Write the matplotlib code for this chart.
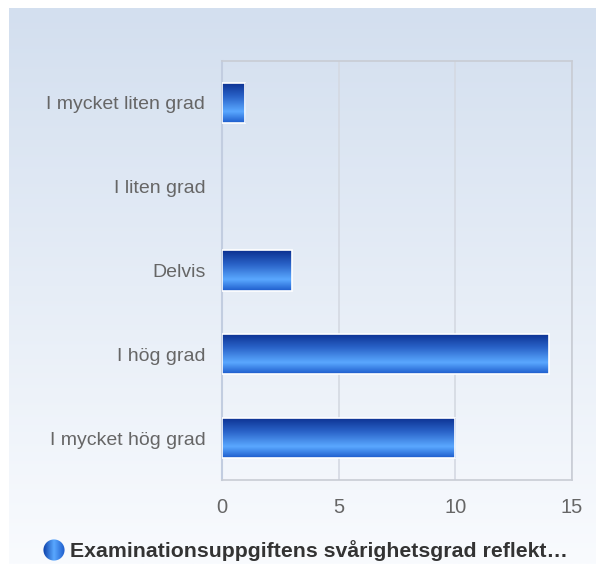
import numpy as np
import matplotlib.pyplot as plt
from matplotlib.colors import LinearSegmentedColormap
from matplotlib.patches import Rectangle, Circle

categories = ["I mycket liten grad", "I liten grad", "Delvis", "I hög grad", "I mycket hög grad"]
values = [1, 0, 3, 14, 10]
x_ticks = [0, 5, 10, 15]
legend_label = "Examinationsuppgiftens svårighetsgrad reflekt…"

plt.rcParams["font.family"] = ["Liberation Sans", "DejaVu Sans"]

fig = plt.figure(figsize=(5.96, 5.64), dpi=100)

# background gradient panel
bg = fig.add_axes([0, 0, 1, 1], zorder=0)
bg.set_axis_off()
bg.set_xlim(0, 596)
bg.set_ylim(564, 0)
bg_cmap = LinearSegmentedColormap.from_list("bg", ["#d3dfef", "#f9fbfe"])
grad = np.linspace(0, 1, 256).reshape(-1, 1)
bg.imshow(grad, cmap=bg_cmap, extent=[9, 596, 564, 8], aspect="auto")

ax = fig.add_axes([222 / 596, 1 - 480 / 564, 350 / 596, 419 / 564], zorder=1)
ax.patch.set_alpha(0)

bar_cmap = LinearSegmentedColormap.from_list(
    "bar", [(0, "#0b2f8f"), (0.35, "#2a63c8"), (0.72, "#5aa8ff"), (1, "#1d5ccc")]
)
bar_grad = np.linspace(0, 1, 128).reshape(-1, 1)

y = np.arange(len(categories))
h = 0.48
for yi, v in zip(y, values):
    if v <= 0:
        continue
    img = ax.imshow(bar_grad, cmap=bar_cmap, extent=[0, v, yi + h / 2, yi - h / 2],
                    aspect="auto", zorder=3, interpolation="bilinear")
    box = Rectangle((0, yi - h / 2), v, h, fill=False,
                    edgecolor="white", linewidth=1.2, zorder=4)
    ax.add_patch(box)
    img.set_clip_path(Rectangle((0, yi - h / 2), v, h, transform=ax.transData))

ax.set_xlim(0, 15)
ax.set_ylim(len(categories) - 0.5, -0.5)
ax.set_xticks(x_ticks)
ax.set_yticks(y)
ax.set_yticklabels(categories)
ax.tick_params(axis="both", length=0, labelsize=14, labelcolor="#666666")
ax.tick_params(axis="x", labelsize=14.5, pad=13)
ax.tick_params(axis="y", pad=12)
ax.grid(axis="x", color="#d4d9e2", linewidth=1.2)
ax.set_axisbelow(True)
for side in ["top", "right", "bottom"]:
    ax.spines[side].set_color("#c8ccd4")
    ax.spines[side].set_linewidth(1.2)
ax.spines["left"].set_color("#c2cde0")
ax.spines["left"].set_linewidth(1.5)

# legend
circ_cmap = LinearSegmentedColormap.from_list("c", ["#0b3fa8", "#5aa8ff", "#1d5ccc"])
lg = fig.add_axes([43 / 596, 1 - 561 / 564, 22 / 596, 22 / 564], zorder=2)
lg.set_axis_off()
xx = np.linspace(0, 1, 64).reshape(1, -1).repeat(64, axis=0)
im = lg.imshow(xx, cmap=circ_cmap, extent=[0, 1, 0, 1], aspect="auto")
im.set_clip_path(Circle((0.5, 0.5), 0.48, transform=lg.transData))
lg.set_xlim(0, 1)
lg.set_ylim(0, 1)
fig.text(70 / 596, 1 - 551 / 564, legend_label, fontsize=15.3, fontweight="bold",
         color="#333333", va="center", ha="left")

fig.savefig("out.png", dpi=100)
